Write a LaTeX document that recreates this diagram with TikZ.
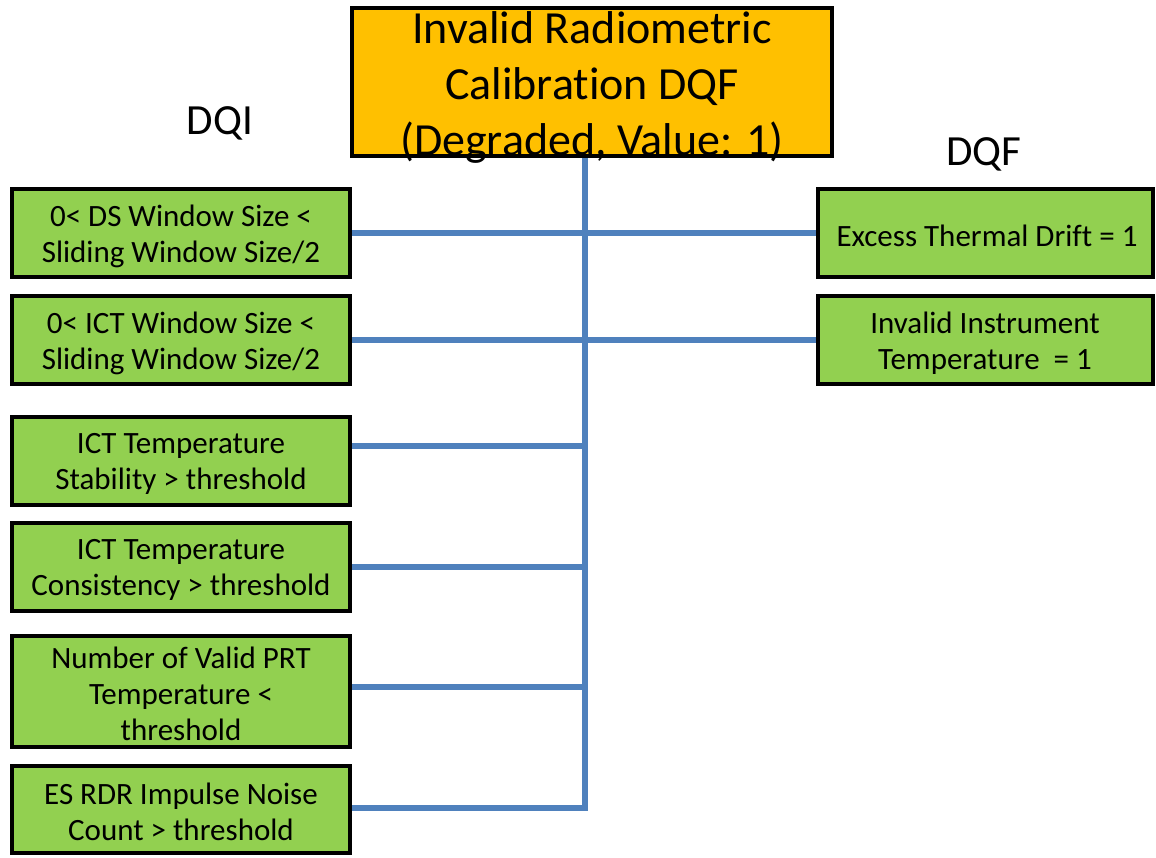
\documentclass[tikz,border=0pt]{standalone}
\usepackage{fontspec}
\setmainfont{Carlito}[Ligatures=NoCommon]
\definecolor{boxgreen}{HTML}{92D050}
\definecolor{boxorange}{HTML}{FFC000}
\definecolor{linkblue}{HTML}{4F81BD}
\begin{document}
\begin{tikzpicture}[x=1pt,y=-1pt,
  greenbox/.style={draw=black,line width=4pt,fill=boxgreen,inner sep=0pt,align=center,
    font=\fontsize{31}{36}\selectfont},
  topbox/.style={draw=black,line width=4pt,fill=boxorange,inner sep=0pt,align=center,
    font=\fontsize{46}{56}\selectfont},
  heading/.style={inner sep=0pt,font=\fontsize{43}{50}\selectfont},
  conn/.style={draw=linkblue,line width=6pt}]
\useasboundingbox (0,0) rectangle (1156,857);

\node[topbox,minimum width=480pt,minimum height=148pt] (top) at (592,82) {};
\coordinate (vb) at (585,811);
\coordinate (j3) at (585,446);
\coordinate (j4) at (585,567);
\coordinate (j5) at (585,687);
\coordinate (j6) at (585,808);

\node[greenbox,minimum width=338pt,minimum height=88pt] (b1) at (181,233) {};
\node[greenbox,minimum width=338pt,minimum height=88pt] (b2) at (181,340) {};
\node[greenbox,minimum width=338pt,minimum height=88pt] (b3) at (181,461) {};
\node[greenbox,minimum width=338pt,minimum height=88pt] (b4) at (181,567) {};
\node[greenbox,minimum width=338pt,minimum height=111pt] (b5) at (181,691) {};
\node[greenbox,minimum width=338pt,minimum height=87pt] (b6) at (181,809) {};
\node[greenbox,minimum width=335pt,minimum height=88pt] (r1) at (985,233) {};
\node[greenbox,minimum width=335pt,minimum height=88pt] (r2) at (985,340) {};

\node[greenbox,draw=none,fill=none] (t1) at (181,236) {0< DS Window Size <\\Sliding Window Size/2};
\node[greenbox,draw=none,fill=none] (t2) at (181,343) {0< ICT Window Size <\\Sliding Window Size/2};
\node[greenbox,draw=none,fill=none] (t3) at (181,464) {ICT Temperature\\Stability > threshold};
\node[greenbox,draw=none,fill=none] (t4) at (181,570) {ICT Temperature\\Consistency > threshold};
\node[greenbox,draw=none,fill=none] (t5) at (181,694) {Number of Valid PRT\\Temperature <\\threshold};
\node[greenbox,draw=none,fill=none] (t6) at (181,812) {ES RDR Impulse Noise\\Count > threshold};
\node[greenbox,draw=none,fill=none] (tr1) at (987,236) {Excess Thermal Drift = 1};
\node[greenbox,draw=none,fill=none] (tr2) at (985,343) {Invalid Instrument\\Temperature \ = 1};

\draw[conn] (top.south -| vb) -- (vb);
\draw[conn] (b1.east) -- (r1.west);
\draw[conn] (b2.east) -- (r2.west);
\draw[conn] (b3.east |- j3) -- (j3);
\draw[conn] (b4.east |- j4) -- (j4);
\draw[conn] (b5.east |- j5) -- (j5);
\draw[conn] (b6.east |- j6) -- (j6);

\node[topbox,fill=none,draw=none] (toptext) at (592,87) {Invalid Radiometric\\Calibration DQF\\(Degraded, Value: 1)};

\node[heading] (dqi) at (220,123) {DQI};
\node[heading] (dqf) at (984,154) {DQF};
\end{tikzpicture}
\end{document}
